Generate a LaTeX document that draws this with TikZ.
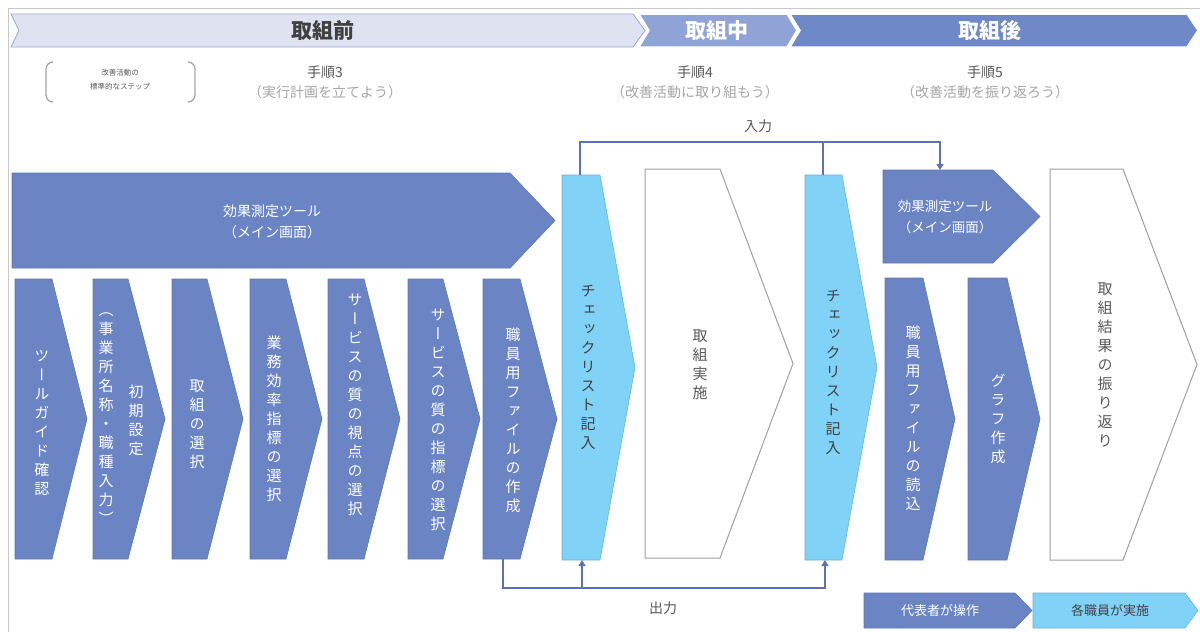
\documentclass[tikz,border=0pt]{standalone}
\usepackage{fontspec}
\setmainfont{Noto Sans CJK JP}
\newfontfamily\vfont[RawFeature=+vert]{Noto Sans CJK JP}
\usetikzlibrary{arrows.meta}
\definecolor{dkb}{HTML}{6A84C4}
\definecolor{ltb}{HTML}{80D2F7}
\definecolor{ban1}{HTML}{DFE3F1}
\definecolor{ban1d}{HTML}{9AA6D0}
\definecolor{ban2}{HTML}{8FA3D6}
\definecolor{ban3}{HTML}{6E88C8}
\definecolor{lnc}{HTML}{5B72B5}
\definecolor{txtd}{HTML}{404040}
\definecolor{txtm}{HTML}{595959}
\definecolor{txtl}{HTML}{A6A6A6}
\definecolor{framec}{HTML}{C8C8C8}
\makeatletter
\newlength\vt@w
\def\vt@loop#1{\ifx#1\@nil\else\hbox to \vt@w{\hss#1\hss}\expandafter\vt@loop\fi}
\newcommand\vtext[2][19pt]{\vbox{\vfont\vt@w=1.1em\baselineskip=#1\lineskiplimit=-30pt\lineskip=0pt\vt@loop#2\@nil}}
\makeatother
\newcommand\pent[6]{\path[#1] (#2,#3) -- (#5,#3) -- (#6,{(#3+#4)/2}) -- (#5,#4) -- (#2,#4) -- cycle;}
\tikzset{
  dshape/.style={fill=dkb, draw=dkb!90!black, line width=0.6},
  lshape/.style={fill=ltb, draw=ltb!85!black, line width=0.6},
  wshape/.style={fill=white, draw=gray!75, line width=1},
  vw/.style={text=white, inner sep=0, font=\fontsize{15}{19}\selectfont},
  vd/.style={text=txtd, inner sep=0, font=\fontsize{15}{19}\selectfont},
  htext/.style={text=white, inner sep=0, align=center, font=\fontsize{14}{21}\selectfont},
  bantext/.style={inner sep=0, font=\fontsize{21}{23}\selectfont\bfseries},
  stepttl/.style={text=txtm, inner sep=0, font=\fontsize{14}{16}\selectfont},
  stepsub/.style={text=txtl, inner sep=0, font=\fontsize{14}{16}\selectfont},
  conn/.style={draw=lnc, line width=2},
  arr/.style={-{Triangle[width=7pt,length=6pt]}},
  lbl/.style={text=txtm, inner sep=0, font=\fontsize{14}{16}\selectfont},
}
\begin{document}
\begin{tikzpicture}[x=1pt,y=-1pt]
\useasboundingbox (0,0) rectangle (1200,632);
\fill[white] (0,0) rectangle (1200,632);
% frame
\draw[framec, line width=1.2] (8.5,632) -- (8.5,8.5) -- (1200,8.5);
% banners
\path[fill=ban1, draw=ban1d, line width=0.8] (11,14) -- (633,14) -- (645,30.5) -- (633,47) -- (11,47) -- (19,30.5) -- cycle;
\path[fill=ban3, draw=white, line width=1.5] (790,14) -- (1187,14) -- (1198,30.5) -- (1187,47) -- (790,47) -- (800,30.5) -- cycle;
\path[fill=ban2, draw=white, line width=1.5] (639,14) -- (787,14) -- (797,30.5) -- (787,47) -- (639,47) -- (649,30.5) -- cycle;
\node[bantext, text=txtd] (b1) at (323,31) {取組前};
\node[bantext, text=white] (b2) at (717,31) {取組中};
\node[bantext, text=white] (b3) at (990,31) {取組後};
% bracket note
\draw[txtl, line width=1.3] (53,62) to[out=180,in=90] (46,69) -- (46,95) to[out=-90,in=180] (53,102);
\draw[txtl, line width=1.3] (188,62) to[out=0,in=90] (195,69) -- (195,95) to[out=-90,in=0] (188,102);
\node[text=txtm, inner sep=0, align=center, font=\fontsize{7.5}{14}\selectfont] (note) at (120,80) {改善活動の\\標準的なステップ};
% step headings
\node[stepttl] (s3) at (325,72) {手順3};
\node[stepsub] (s3b) at (325,92) {（実行計画を立てよう）};
\node[stepttl] (s4) at (695,72) {手順4};
\node[stepsub] (s4b) at (695,92) {（改善活動に取り組もう）};
\node[stepttl] (s5) at (985,72) {手順5};
\node[stepsub] (s5b) at (985,92) {（改善活動を振り返ろう）};
% big tool arrow
\pent{dshape}{12}{173}{268}{510}{555}
\node[htext] (tool1) at (272,222) {効果測定ツール\\（メイン画面）};
% chevrons
\pent{dshape}{15}{279}{559}{52}{87}
\pent{dshape}{93}{279}{559}{128}{165}
\pent{dshape}{172}{279}{559}{207}{243}
\pent{dshape}{250}{279}{559}{286}{322}
\pent{dshape}{328}{279}{559}{364}{400}
\pent{dshape}{408}{279}{559}{443}{480}
\pent{dshape}{483}{279}{559}{520}{557}
\node[vw] (c1) at (42,423) {\vtext{ツールガイド確認}};
\node[vw] (c2b) at (106,419) {\vtext{（事業所名称・職種入力）}};
\node[vw] (c2a) at (136,420) {\vtext{初期設定}};
\node[vw] (c3) at (197,424) {\vtext{取組の選択}};
\node[vw] (c4) at (274,419) {\vtext{業務効率指標の選択}};
\node[vw] (c5) at (355,405) {\vtext{サービスの質の視点の選択}};
\node[vw] (c6) at (438,420) {\vtext{サービスの質の指標の選択}};
\node[vw] (c7) at (513,420) {\vtext{職員用ファイルの作成}};
% checklist 1, implementation, checklist 2
\pent{lshape}{562}{175}{560}{600}{635}
\node[vd] (k1) at (588,367) {\vtext{チェックリスト記入}};
\pent{wshape}{645}{169}{558}{720}{793}
\node[vd, text=txtm] (impl) at (700,365) {\vtext{取組実施}};
\pent{lshape}{805}{175}{560}{842}{877}
\node[vd] (k2) at (833,372) {\vtext{チェックリスト記入}};
% after
\pent{dshape}{883}{170}{263}{993}{1040}
\node[htext, font=\fontsize{13.5}{21}\selectfont] (tool2) at (945,217) {効果測定ツール\\（メイン画面）};
\pent{dshape}{885}{278}{560}{923}{955}
\node[vw] (r1) at (913,418) {\vtext{職員用ファイルの読込}};
\pent{dshape}{968}{278}{560}{1007}{1040}
\node[vw] (r2) at (998,419) {\vtext{グラフ作成}};
\pent{wshape}{1050}{169}{560}{1123}{1197}
\node[vd, text=txtm] (r3) at (1105,365) {\vtext{取組結果の振り返り}};
% connector points
\coordinate (k1top) at (580,175);
\coordinate (k2top) at (823,175);
\coordinate (t2top) at (940,170);
\coordinate (i1) at (580,142);
\coordinate (i2) at (823,142);
\coordinate (i3) at (940,142);
\coordinate (c7bot) at (503,559);
\coordinate (k1bot) at (582,560);
\coordinate (k2bot) at (825,560);
\coordinate (o1) at (503,588);
\coordinate (o2) at (582,588);
\coordinate (o3) at (825,588);
\draw[conn, arr] (k1top) -- (i1) -- (i3) -- (t2top);
\draw[conn] (k2top) -- (i2);
\draw[conn, arr] (c7bot) -- (o1) -- (o3) -- (k2bot);
\draw[conn, arr] (o2) -- (k1bot);
\node[lbl] (inlbl) at (758,126) {入力};
\node[lbl] (outlbl) at (663,608) {出力};
% legend
\pent{dshape}{864}{593}{628}{1015}{1032}
\node[text=white, inner sep=0, font=\fontsize{13}{15}\selectfont] (lg1) at (940,611) {代表者が操作};
\pent{lshape}{1033}{593}{628}{1185}{1198}
\node[text=txtd, inner sep=0, font=\fontsize{13}{15}\selectfont] (lg2) at (1110,611) {各職員が実施};
\end{tikzpicture}
\end{document}
